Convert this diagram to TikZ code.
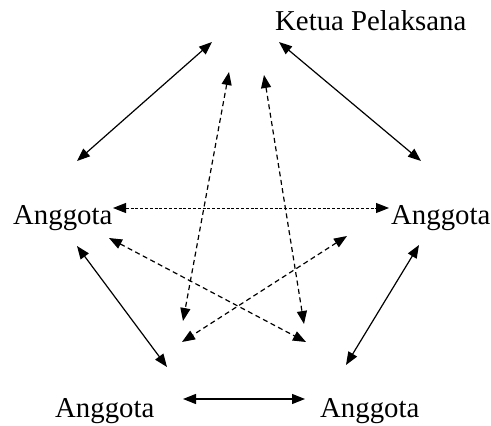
\documentclass[tikz,border=0pt]{standalone}
\usepackage{fontspec}
\setmainfont{Liberation Serif}
\usetikzlibrary{arrows.meta}
\begin{document}
\begin{tikzpicture}[x=1pt,y=-1pt,
  lbl/.style={anchor=base west,inner sep=0pt,font=\fontsize{28.8}{30}\selectfont},
  tip/.style={{Triangle[length=13pt,width=10pt]}-{Triangle[length=13pt,width=10pt]}},
  solidarrow/.style={tip,line width=1.2pt},
  dasharrow/.style={tip,line width=1.2pt,dash pattern=on 5pt off 3.5pt},
  finedash/.style={tip,line width=1pt,dash pattern=on 3pt off 1.8pt}]
\useasboundingbox (0,0) rectangle (491,426);
% labels
\node[lbl] (ketua) at (275,30) {Ketua Pelaksana};
\node[lbl] (aL) at (13,224) {Anggota};
\node[lbl] (aR) at (391,224) {Anggota};
\node[lbl] (aBL) at (55,417) {Anggota};
\node[lbl] (aBR) at (320,417) {Anggota};
% arrow end points
\coordinate (k1) at (212,42);   \coordinate (l1) at (77,161);
\coordinate (k2) at (279,42);   \coordinate (r1) at (421,161);
\coordinate (l2) at (77,246);   \coordinate (bl1) at (167,367);
\coordinate (r2) at (419,245);  \coordinate (br1) at (346,365);
\coordinate (bl2) at (183,399); \coordinate (br2) at (305,399);
\coordinate (l3) at (113,208);  \coordinate (r3) at (389,208);
\coordinate (k3) at (229,72);   \coordinate (bl3) at (183,321);
\coordinate (k4) at (264,75);   \coordinate (br3) at (304,324);
\coordinate (l4) at (109,238);  \coordinate (br4) at (306,342);
\coordinate (r4) at (347,236);  \coordinate (bl4) at (182,342);
% solid connectors
\draw[solidarrow] (k1) -- (l1);
\draw[solidarrow] (k2) -- (r1);
\draw[solidarrow] (l2) -- (bl1);
\draw[solidarrow] (r2) -- (br1);
\draw[solidarrow] (bl2) -- (br2);
% dashed connectors
\draw[finedash] (l3) -- (r3);
\draw[dasharrow] (k3) -- (bl3);
\draw[dasharrow] (k4) -- (br3);
\draw[dasharrow] (l4) -- (br4);
\draw[dasharrow] (r4) -- (bl4);
\end{tikzpicture}
\end{document}
